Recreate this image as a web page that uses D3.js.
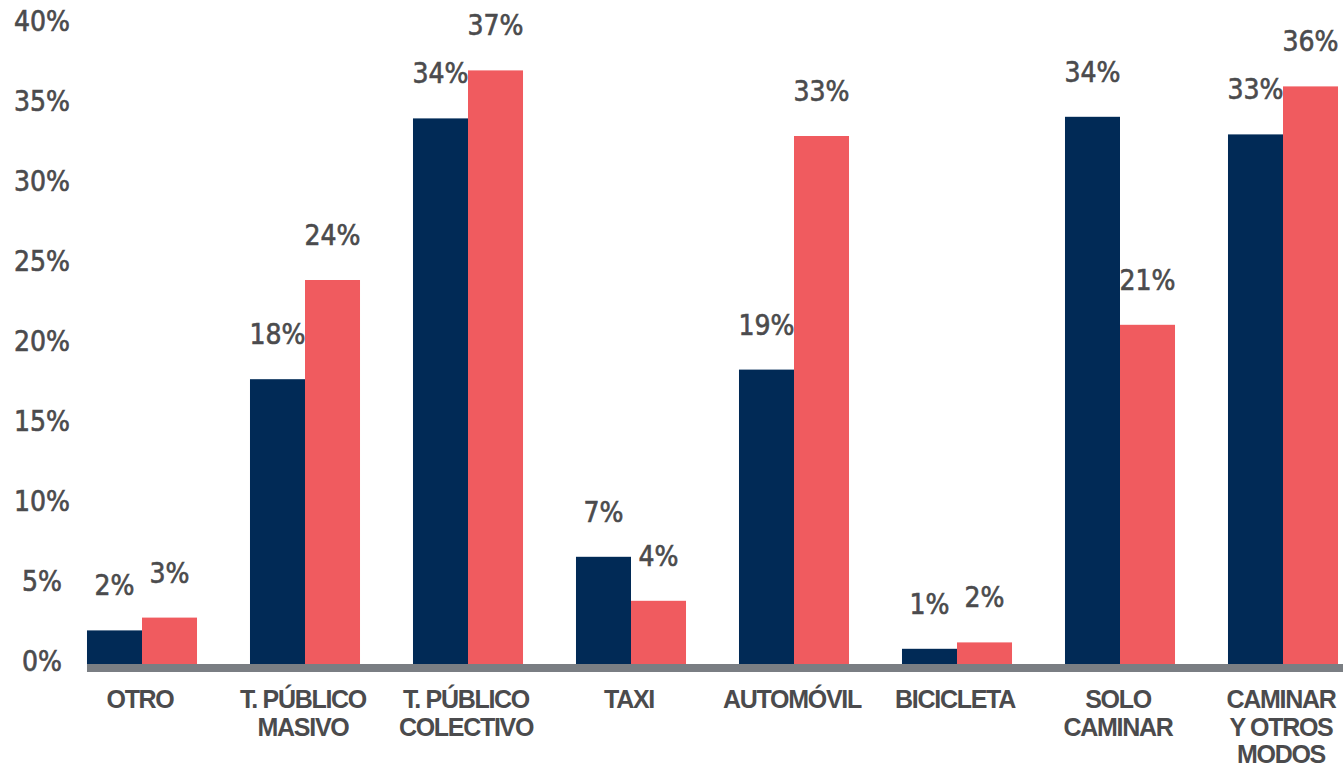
<!DOCTYPE html>
<html>
<head>
<meta charset="utf-8">
<script src="https://cdn.jsdelivr.net/npm/d3@7"></script>
<style>
  html, body { margin: 0; padding: 0; background: #ffffff; }
  svg { display: block; }
</style>
</head>
<body>
<svg id="chart" width="1343" height="770"></svg>
<script>
// ---- data ----
const categories = [
  ["OTRO"],
  ["T. PÚBLICO", "MASIVO"],
  ["T. PÚBLICO", "COLECTIVO"],
  ["TAXI"],
  ["AUTOMÓVIL"],
  ["BICICLETA"],
  ["SOLO", "CAMINAR"],
  ["CAMINAR", "Y OTROS", "MODOS"]
];
const seriesA = [2.1, 17.8, 34.1, 6.7, 18.4, 0.95, 34.2, 33.1];
const seriesB = [2.9, 24.0, 37.1, 3.95, 33.0, 1.35, 21.2, 36.1];
const labelsA = ["2%", "18%", "34%", "7%", "19%", "1%", "34%", "33%"];
const labelsB = ["3%", "24%", "37%", "4%", "33%", "2%", "21%", "36%"];
const yTicks = [0, 5, 10, 15, 20, 25, 30, 35, 40];

// ---- layout ----
const colors = ["#012a56", "#f05b5f"];
const textColor = "#4b4b4d";
const svg = d3.select("#chart");
const W = 1343;

const keys = categories.map((c, i) => "c" + i);
const x0 = d3.scaleBand().domain(keys).range([60.5, 1364.5])
  .paddingInner(0.325).paddingOuter(0.1625);
const x1 = d3.scaleBand().domain(["a", "b"]).range([0, x0.bandwidth()]).padding(0);
const y = d3.scaleLinear().domain([0, 40]).range([664, 24]);

const numFont = "'Liberation Sans Narrow', 'DejaVu Sans Condensed', sans-serif";

// y tick labels
svg.append("g").selectAll("text").data(yTicks).join("text")
  .attr("x", 42)
  .attr("y", d => y(d) + 7)
  .attr("text-anchor", "middle")
  .attr("font-family", numFont)
  .attr("font-size", 28)
  .attr("fill", textColor)
  .attr("stroke", textColor)
  .attr("stroke-width", 0.6)
  .text(d => d + "%");

// bars
const rows = categories.map((c, i) => ({
  key: keys[i],
  vals: [
    { s: "a", v: seriesA[i], lab: labelsA[i], col: colors[0] },
    { s: "b", v: seriesB[i], lab: labelsB[i], col: colors[1] }
  ]
}));

const g = svg.append("g").selectAll("g").data(rows).join("g")
  .attr("transform", d => `translate(${x0(d.key)},0)`);

g.selectAll("rect").data(d => d.vals).join("rect")
  .attr("x", d => x1(d.s))
  .attr("y", d => y(d.v))
  .attr("width", x1.bandwidth())
  .attr("height", d => y(0) - y(d.v))
  .attr("fill", d => d.col);

g.selectAll("text.val").data(d => d.vals).join("text")
  .attr("class", "val")
  .attr("x", d => x1(d.s) + x1.bandwidth() / 2)
  .attr("y", d => y(d.v) - 35)
  .attr("text-anchor", "middle")
  .attr("font-family", numFont)
  .attr("font-size", 28)
  .attr("fill", textColor)
  .attr("stroke", textColor)
  .attr("stroke-width", 0.6)
  .text(d => d.lab);

// baseline axis bar
svg.append("rect")
  .attr("x", x0(keys[0]))
  .attr("y", y(0))
  .attr("width", W - x0(keys[0]))
  .attr("height", 8)
  .attr("fill", "#7a7e83");

// category labels
const cat = svg.append("g").selectAll("text").data(categories.map((c, i) => ({ c, k: keys[i] })))
  .join("text")
  .attr("x", d => x0(d.k) + x0.bandwidth() / 2 - 2)
  .attr("y", 708)
  .attr("text-anchor", "middle")
  .attr("font-family", "'Liberation Sans', Arial, sans-serif")
  .attr("font-weight", "bold")
  .attr("font-size", 25)
  .attr("letter-spacing", "-1.3px")
  .attr("fill", textColor);
cat.selectAll("tspan").data(d => d.c.map(line => ({ line, x: x0(d.k) + x0.bandwidth() / 2 - 2 })))
  .join("tspan")
  .attr("x", d => d.x)
  .attr("dy", (d, i) => i === 0 ? 0 : 27.5)
  .text(d => d.line);
</script>
</body>
</html>
